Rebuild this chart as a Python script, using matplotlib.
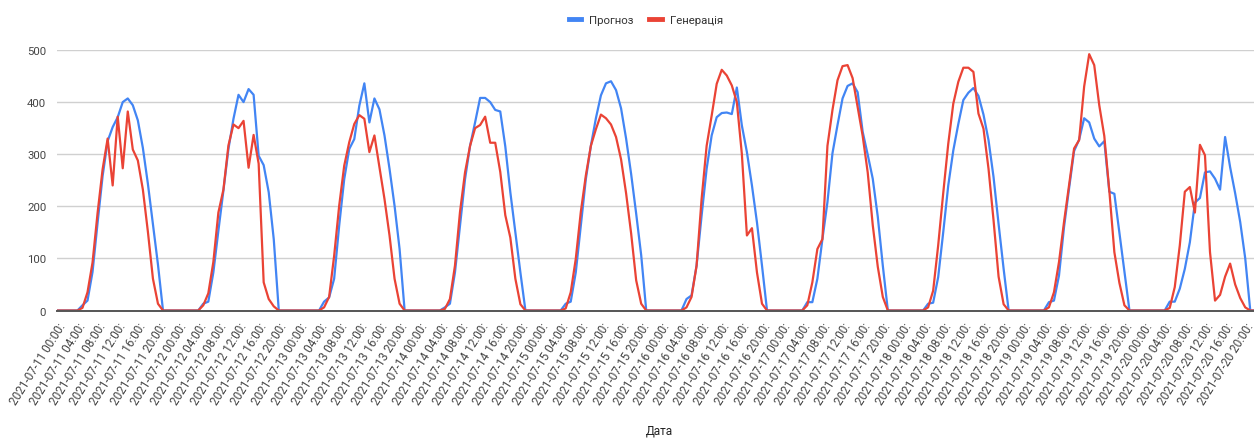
import matplotlib
matplotlib.use("Agg")
import matplotlib.pyplot as plt
from matplotlib.lines import Line2D
import pandas as pd

plt.rcParams['font.family'] = ['Roboto', 'DejaVu Sans']

# hourly values, one row per day (2021-07-11 00:00 ... 2021-07-20 22:00)
prognoz = [
    0, 0, 0, 0, 0, 10, 19, 74, 168, 258, 325, 352, 371, 400, 407, 394, 365, 312, 243, 165, 88, 0, 0, 0,
    0, 0, 0, 0, 0, 13, 17, 73, 153, 230, 310, 368, 414, 400, 425, 414, 297, 279, 227, 137, 0, 0, 0, 0,
    0, 0, 0, 0, 0, 17, 25, 61, 163, 252, 310, 329, 393, 436, 361, 407, 386, 336, 272, 201, 118, 0, 0, 0,
    0, 0, 0, 0, 0, 6, 13, 73, 163, 252, 316, 361, 408, 408, 400, 385, 382, 315, 227, 150, 73, 0, 0, 0,
    0, 0, 0, 0, 0, 13, 17, 73, 163, 252, 316, 369, 413, 436, 440, 423, 388, 330, 262, 186, 106, 0, 0, 0,
    0, 0, 0, 0, 0, 22, 29, 86, 182, 272, 336, 371, 379, 380, 377, 428, 355, 304, 240, 169, 86, 0, 0, 0,
    0, 0, 0, 0, 0, 16, 16, 61, 137, 208, 302, 356, 407, 431, 436, 419, 343, 299, 253, 180, 86, 0, 0, 0,
    0, 0, 0, 0, 0, 13, 15, 64, 150, 240, 307, 358, 404, 418, 427, 412, 376, 327, 256, 166, 80, 0, 0, 0,
    0, 0, 0, 0, 0, 16, 19, 67, 160, 234, 306, 328, 369, 361, 330, 315, 325, 228, 224, 149, 75, 0, 0, 0,
    0, 0, 0, 0, 0, 17, 17, 42, 80, 131, 207, 216, 265, 267, 253, 232, 333, 275, 225, 170, 100, 0, 0,
]
generatsiia = [
    0, 0, 0, 0, 0, 5, 35, 92, 187, 271, 330, 240, 372, 273, 382, 309, 288, 232, 151, 61, 13, 0, 0, 0,
    0, 0, 0, 0, 0, 10, 33, 93, 188, 232, 317, 357, 350, 364, 274, 337, 282, 54, 22, 8, 0, 0, 0, 0,
    0, 0, 0, 0, 0, 6, 26, 105, 201, 278, 323, 358, 375, 368, 304, 336, 275, 214, 144, 61, 13, 0, 0, 0,
    0, 0, 0, 0, 0, 3, 22, 86, 189, 265, 316, 350, 356, 372, 322, 322, 266, 183, 140, 61, 12, 0, 0, 0,
    0, 0, 0, 0, 0, 4, 35, 99, 189, 259, 316, 348, 376, 369, 357, 333, 290, 225, 148, 58, 13, 0, 0, 0,
    0, 0, 0, 0, 0, 6, 26, 86, 214, 316, 374, 435, 462, 451, 432, 400, 300, 144, 158, 73, 13, 0, 0, 0,
    0, 0, 0, 0, 0, 10, 54, 118, 137, 316, 385, 442, 469, 471, 446, 390, 335, 265, 164, 84, 26, 0, 0, 0,
    0, 0, 0, 0, 0, 6, 38, 125, 225, 320, 397, 439, 466, 466, 458, 378, 349, 272, 173, 65, 12, 0, 0, 0,
    0, 0, 0, 0, 0, 6, 35, 93, 170, 240, 311, 327, 430, 492, 471, 394, 335, 230, 112, 53, 10, 0, 0, 0,
    0, 0, 0, 0, 0, 5, 45, 125, 228, 237, 188, 318, 298, 112, 19, 30, 65, 90, 50, 24, 6, 0, 0,
]

dates = pd.date_range('2021-07-11 00:00', periods=len(prognoz), freq='h')
tick_idx = list(range(0, len(dates), 4))
tick_labels = [dates[i].strftime('%Y-%m-%d %H:%M:') for i in tick_idx]

BLUE = '#4285F4'
RED = '#EA4335'

fig = plt.figure(figsize=(12.54, 4.39), dpi=100)
ax = fig.add_axes([57.3 / 1254, 1 - 311.5 / 439, 1198 / 1254, 260.5 / 439])

x = list(range(len(dates)))
ax.plot(x, prognoz, color=BLUE, lw=1.6, solid_joinstyle='round', zorder=3)
ax.plot(x, generatsiia, color=RED, lw=1.6, solid_joinstyle='round', zorder=4)

ax.set_xlim(0, len(dates) - 1)
ax.set_ylim(0, 500)
ax.set_yticks([0, 100, 200, 300, 400, 500])
ax.grid(axis='y', color='#d0d0d0', lw=1)
ax.set_axisbelow(True)
for s in ['top', 'right', 'left']:
    ax.spines[s].set_visible(False)
ax.spines['bottom'].set_color('#555555')
ax.spines['bottom'].set_linewidth(1.4)
ax.spines['bottom'].set_zorder(5)

ax.tick_params(axis='y', length=0, pad=8, labelsize=8.2, labelcolor='#444444')
ax.set_xticks(tick_idx)
ax.set_xticklabels(tick_labels, rotation=58, ha='right', rotation_mode='anchor',
                   fontsize=8.5, color='#444444')
ax.tick_params(axis='x', length=0, pad=7)

handles = [Line2D([], [], color=BLUE, lw=3.5), Line2D([], [], color=RED, lw=3.5)]
fig.legend(handles, ['Прогноз', 'Генерація'], loc='center', bbox_to_anchor=(0.515, 0.952),
           ncol=2, frameon=False, fontsize=8.2, handlelength=1.1, handletextpad=0.7,
           columnspacing=1.4, labelcolor='#333333')

fig.text(0.5255, 0.018, 'Дата', ha='center', va='center', fontsize=8.5, color='#222222')

fig.savefig('out.png', dpi=100)
